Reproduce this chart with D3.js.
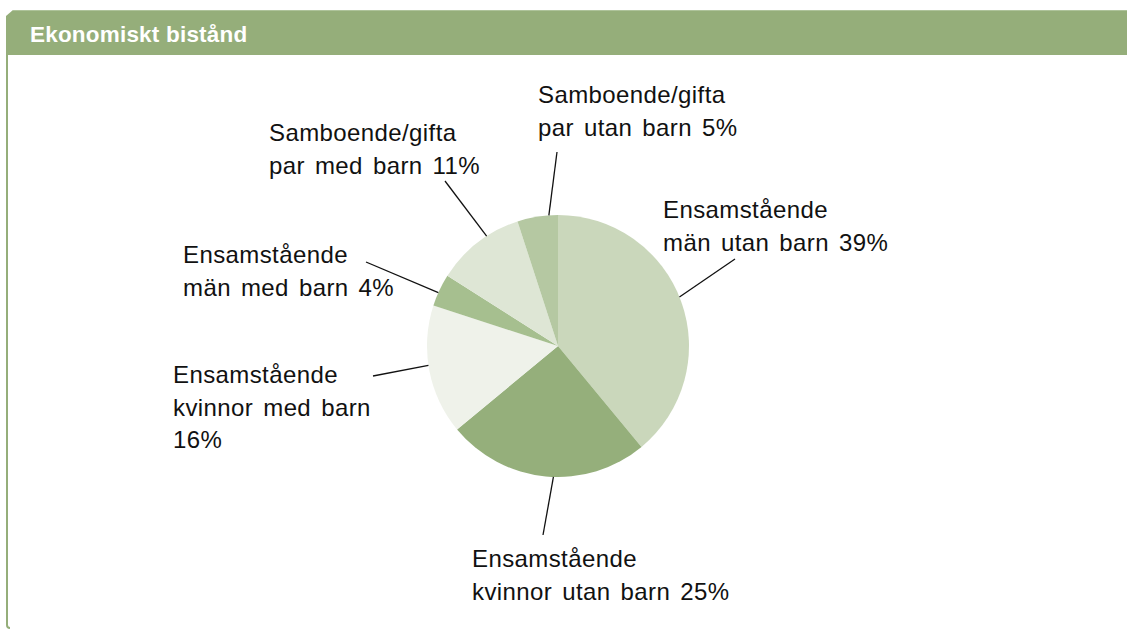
<!DOCTYPE html>
<html>
<head>
<meta charset="utf-8">
<script src="https://cdn.jsdelivr.net/npm/d3@7"></script>
<style>
  body { margin: 0; background: #fff; }
  svg { display: block; font-family: "Liberation Sans", Arial, Helvetica, sans-serif; }
</style>
</head>
<body>
<div id="chart"></div>
<script>
// data
var title = "Ekonomiskt bistånd";
var categories = [
  "Ensamstående män utan barn",
  "Ensamstående kvinnor utan barn",
  "Ensamstående kvinnor med barn",
  "Ensamstående män med barn",
  "Samboende/gifta par med barn",
  "Samboende/gifta par utan barn"
];
var shares = [39, 25, 16, 4, 11, 5];
var labelLines = [
  ["Ensamstående", "män utan barn 39%"],
  ["Ensamstående", "kvinnor utan barn 25%"],
  ["Ensamstående", "kvinnor med barn", "16%"],
  ["Ensamstående", "män med barn 4%"],
  ["Samboende/gifta", "par med barn 11%"],
  ["Samboende/gifta", "par utan barn 5%"]
];
var colors = ["#cad7bb", "#95af7b", "#eff2ea", "#a6bf8f", "#dee6d5", "#b5c8a2"];

// label layout: text x / first baseline, leader angle on the pie (deg), leader outer end
var labelPos = [
  { x: 663, y: 218, ang: 68, ex: 735, ey: 259 },
  { x: 472, y: 567, ang: 182, ex: 543, ey: 535 },
  { x: 173, y: 383, ang: 261.5, ex: 373, ey: 376 },
  { x: 183, y: 263, ang: 294, ex: 366, ey: 262 },
  { x: 269, y: 141, ang: 327, ex: 445, ey: 181 },
  { x: 538, y: 103, ang: 356, ex: 557, ey: 152 }
];

var W = 1127, H = 630;
var cx = 558, cy = 346, R = 131;
var green = "#95ae7a";

var svg = d3.select("#chart").append("svg")
  .attr("width", W)
  .attr("height", H);

// panel frame: header bar with cut corner + left rule
svg.append("path")
  .attr("d", "M6,16 L13,10 L1127,10 L1127,55 L6,55 Z")
  .attr("fill", green);
svg.append("line")
  .attr("x1", 13).attr("x2", 1127).attr("y1", 10.5).attr("y2", 10.5)
  .attr("stroke", "#aec39a").attr("stroke-width", 1);
svg.append("path")
  .attr("d", "M7,55 L7,625 Q7,628 10,628")
  .attr("fill", "none")
  .attr("stroke", green)
  .attr("stroke-width", 2);

svg.append("text")
  .attr("x", 30).attr("y", 42)
  .attr("fill", "#fff")
  .attr("font-weight", "bold")
  .attr("font-size", 22.5)
  .attr("letter-spacing", 0.2)
  .text(title);

// pie
var pie = d3.pie().sort(null).value(function (d) { return d; });
var arc = d3.arc().innerRadius(0).outerRadius(R);
var arcs = pie(shares);

var g = svg.append("g").attr("transform", "translate(" + cx + "," + cy + ")");
g.selectAll("path.slice")
  .data(arcs)
  .enter().append("path")
  .attr("class", "slice")
  .attr("d", arc)
  .attr("fill", function (d, i) { return colors[i]; });

// leader lines
svg.selectAll("line.leader")
  .data(labelPos)
  .enter().append("line")
  .attr("class", "leader")
  .attr("x1", function (d) { return cx + R * Math.sin(d.ang * Math.PI / 180); })
  .attr("y1", function (d) { return cy - R * Math.cos(d.ang * Math.PI / 180); })
  .attr("x2", function (d) { return d.ex; })
  .attr("y2", function (d) { return d.ey; })
  .attr("stroke", "#111")
  .attr("stroke-width", 1.3);

// labels
var labels = svg.selectAll("text.lbl")
  .data(labelLines)
  .enter().append("text")
  .attr("class", "lbl")
  .attr("fill", "#111")
  .attr("font-size", 24)
  .attr("letter-spacing", 0.4)
  .attr("word-spacing", 3)
  .attr("y", function (d, i) { return labelPos[i].y; });

labels.selectAll("tspan")
  .data(function (d, i) { return d.map(function (t) { return { t: t, i: i }; }); })
  .enter().append("tspan")
  .attr("x", function (d) { return labelPos[d.i].x; })
  .attr("dy", function (d, j) { return j === 0 ? 0 : 32.5; })
  .text(function (d) { return d.t; });
</script>
</body>
</html>
